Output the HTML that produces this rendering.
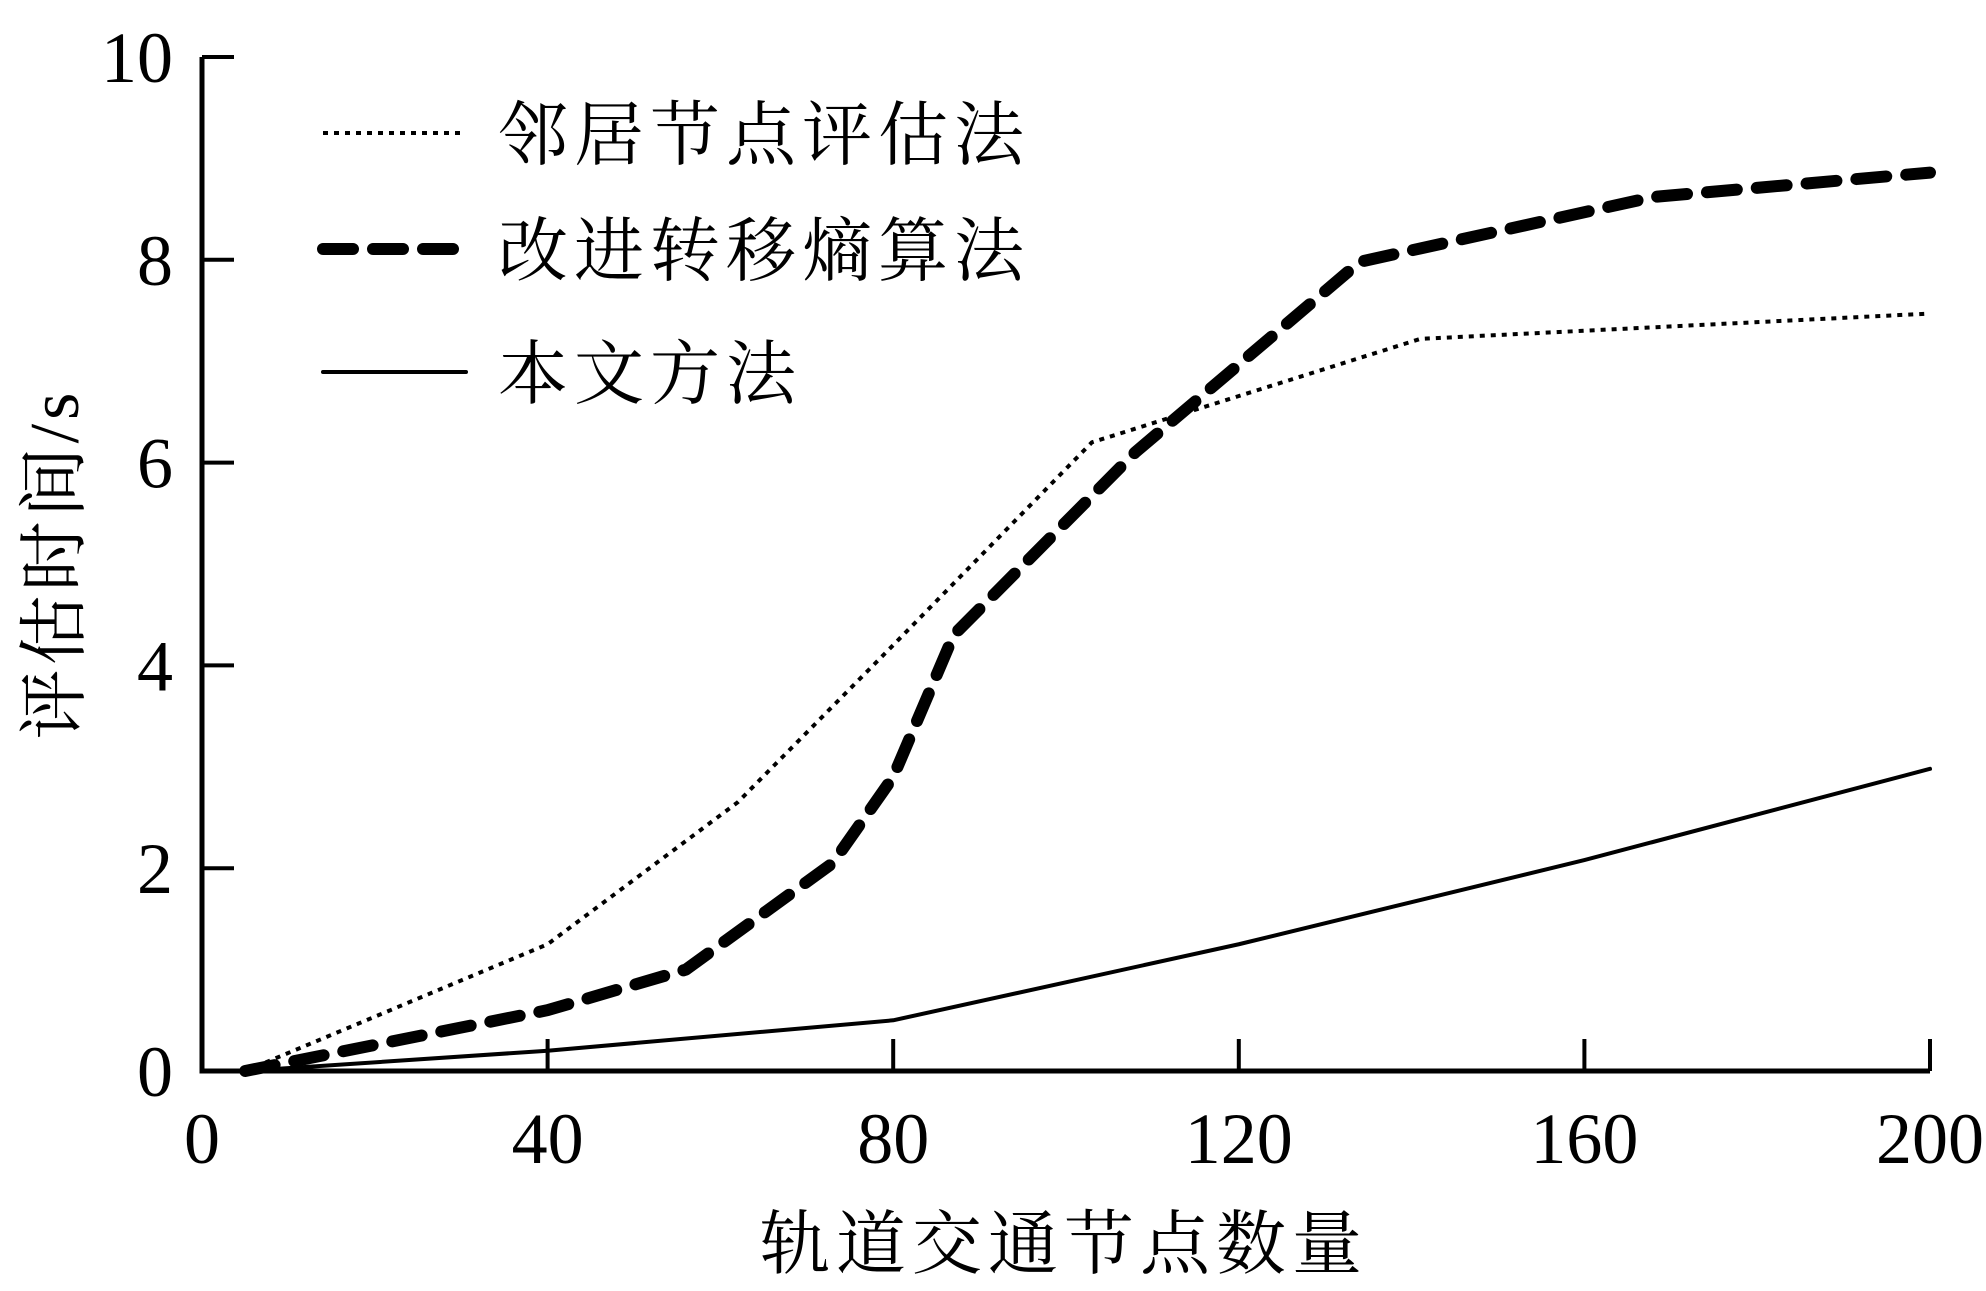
<!DOCTYPE html>
<html><head><meta charset="utf-8"><style>
html,body{margin:0;padding:0;background:#fff;}
svg{display:block;}
text{font-family:"Liberation Serif","Noto Serif CJK SC",serif;fill:#000;}
</style></head><body>
<svg id="chart" width="1986" height="1291" viewBox="0 0 1986 1291">
<g id="axes"></g><g id="series"></g><g id="legend"></g>
</svg>
<script>
const xTicks=[0,40,80,120,160,200];
const yTicks=[0,2,4,6,8,10];
const neighborX=[5,40,62,80,103,141,200];
const neighborY=[0,1.25,2.65,4.2,6.2,7.22,7.47];
const entropyX=[5,40,56,73,80,87,108,134,168,200];
const entropyY=[0,0.6,1.0,2.05,2.9,4.3,6.1,7.98,8.62,8.86];
const oursX=[5,40,80,120,160,200];
const oursY=[0,0.2,0.5,1.25,2.08,2.98];
const NS='http://www.w3.org/2000/svg';
const X0=202,X1=1930,Y0=1071,Y1=57;
function sx(v){return X0+(v-0)/(200-0)*(X1-X0);}
function sy(v){return Y0-(v-0)/(10-0)*(Y0-Y1);}
function mk(tag,attrs,parent,txt){const e=document.createElementNS(NS,tag);for(const k in attrs)e.setAttribute(k,attrs[k]);if(txt!==undefined)e.textContent=txt;parent.appendChild(e);return e;}
const axes=document.getElementById('axes'),series=document.getElementById('series'),legend=document.getElementById('legend');
let a=mk('path',{d:`M${X0} ${Y1}V${Y0}H${X1}`,fill:'none',stroke:'#000','stroke-width':5},axes);


xTicks.forEach(v=>{
 if(v>0){let t=mk('line',{x1:sx(v),x2:sx(v),y1:Y0,y2:Y0-32,stroke:'#000','stroke-width':4},axes);
 
 }
 let l=mk('text',{x:sx(v),y:1163,'text-anchor':'middle','font-size':72},axes,String(v));
 
 
});
yTicks.forEach(v=>{
 if(v>0){let t=mk('line',{x1:X0,x2:X0+32,y1:sy(v),y2:sy(v),stroke:'#000','stroke-width':4},axes);
 
 }
 let l=mk('text',{x:173,y:sy(v)+25,'text-anchor':'end','font-size':72},axes,String(v));
 
 
});
let xt=mk('text',{x:1064,y:1268,'text-anchor':'middle','font-size':70,'letter-spacing':6},axes,'轨道交通节点数量');


let yt=mk('text',{x:0,y:0,'text-anchor':'middle','font-size':70,'letter-spacing':4,transform:'translate(78,564) rotate(-90)'},axes,'评估时间/s');


function pts(xs,ys){return xs.map((x,i)=>sx(x)+','+sy(ys[i])).join(' ');}
const styles=[
 {xs:neighborX,ys:neighborY,w:4,dash:'5 6',cap:'butt',name:'neighbor-eval-line',label:'邻居节点评估法',ly:133},
 {xs:entropyX,ys:entropyY,w:12,dash:'30 20',cap:'round',name:'entropy-line',label:'改进转移熵算法',ly:249},
 {xs:oursX,ys:oursY,w:4,dash:'none',cap:'round',name:'proposed-method-line',label:'本文方法',ly:372}
];
styles.forEach(s=>{
 let p=mk('polyline',{points:pts(s.xs,s.ys),fill:'none',stroke:'#000','stroke-width':s.w,'stroke-dasharray':s.dash,'stroke-linecap':s.cap,'stroke-linejoin':'round'},series);
 
 
 let ln=mk('line',{x1:323,x2:466,y1:s.ly,y2:s.ly,stroke:'#000','stroke-width':s.w,'stroke-dasharray':s.dash,'stroke-linecap':s.cap},legend);
 
 
 let t=mk('text',{x:498,y:s.ly+26,'font-size':70,'letter-spacing':6},legend,s.label);
 
 
});
</script>
</body></html>
